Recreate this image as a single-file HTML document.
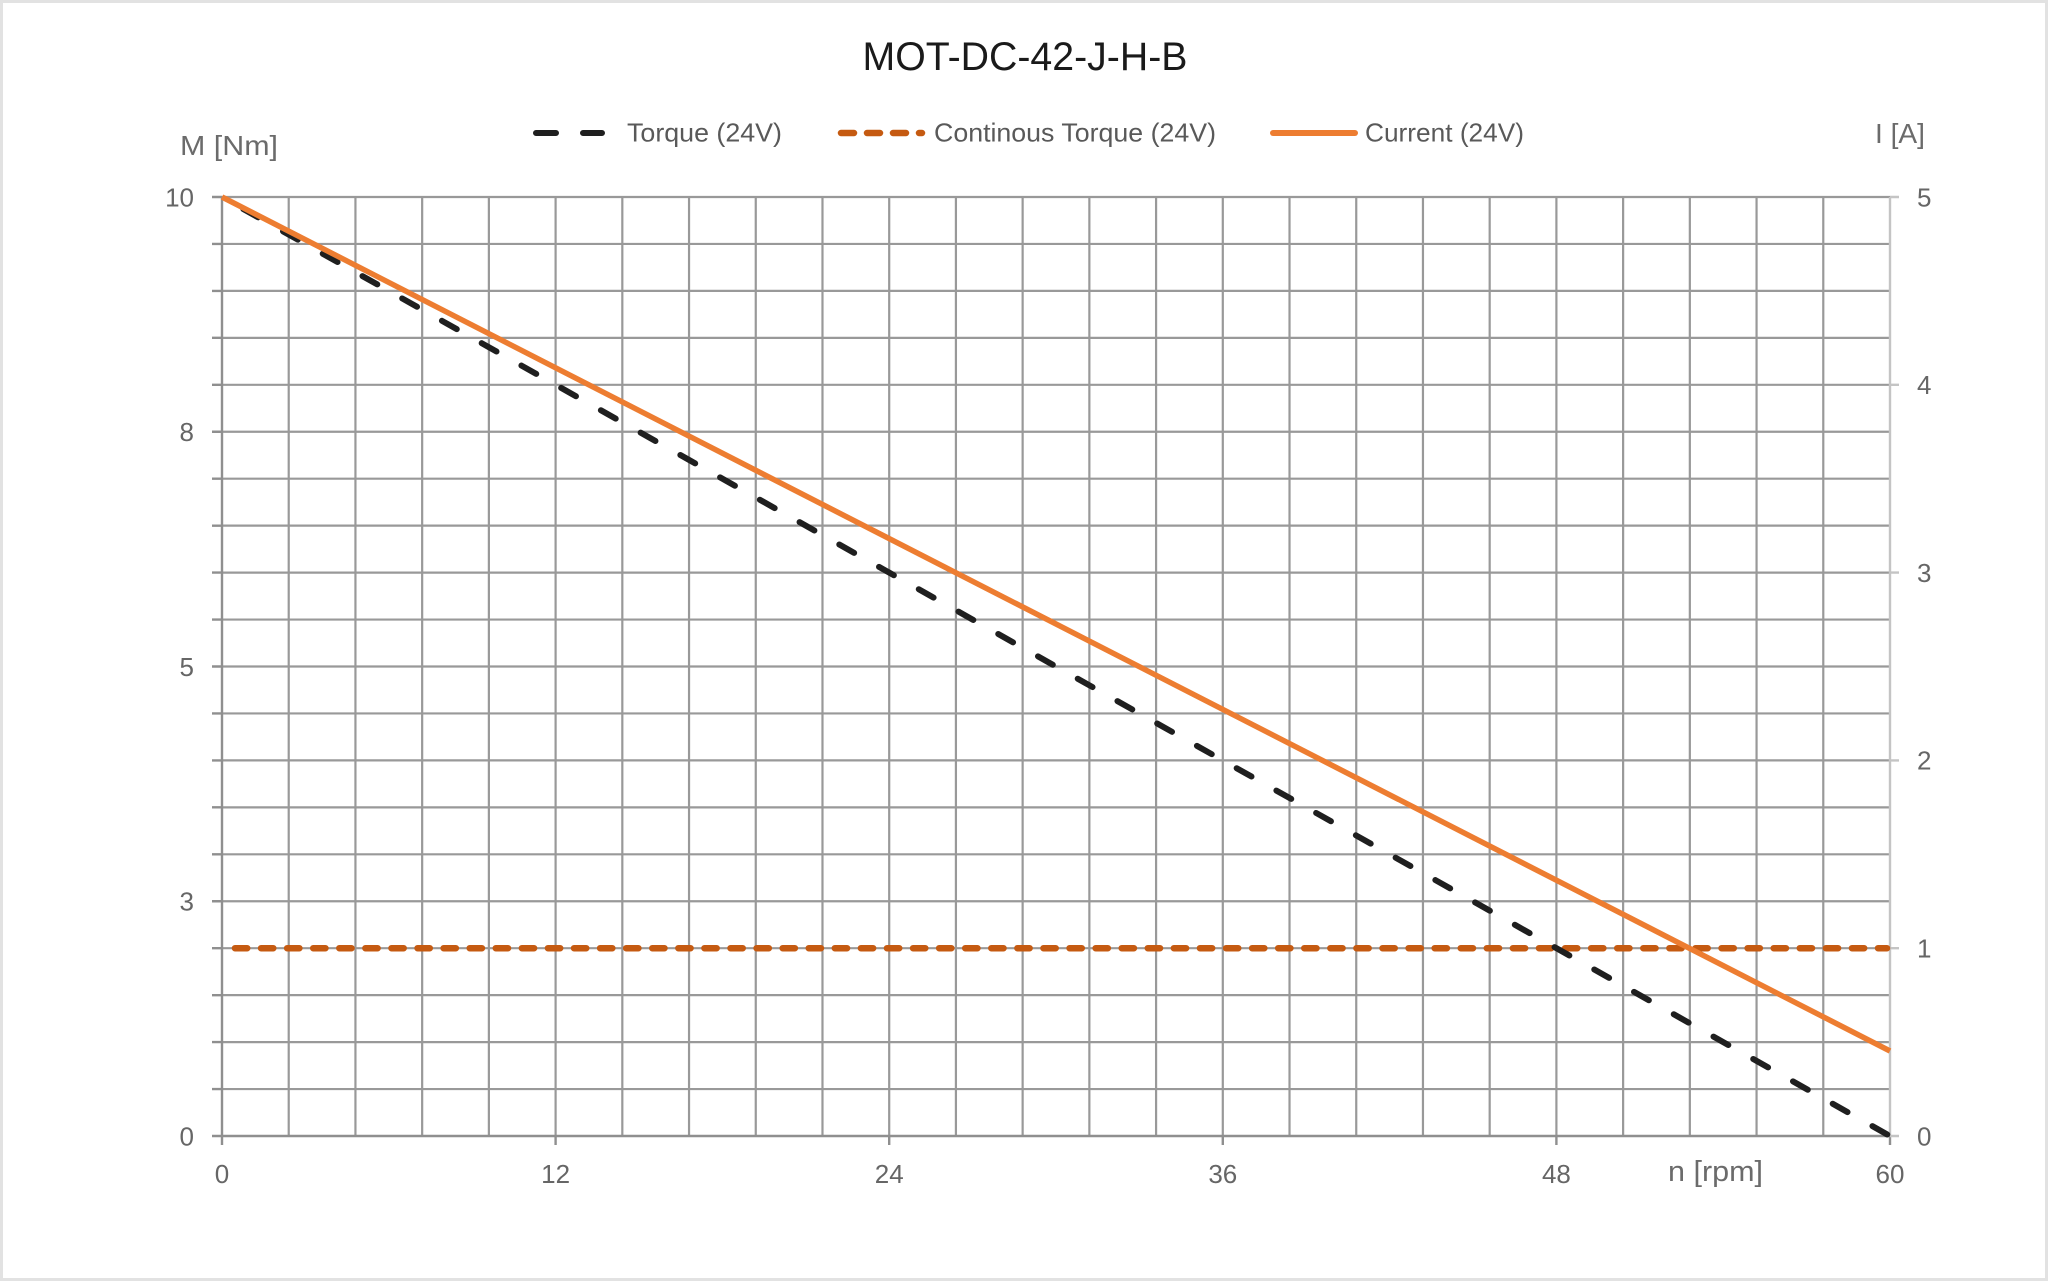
<!DOCTYPE html>
<html>
<head>
<meta charset="utf-8">
<style>
html,body{margin:0;padding:0;background:#ffffff;}
svg{display:block;}
text{font-family:"Liberation Sans",sans-serif;}
</style>
</head>
<body>
<svg width="2048" height="1282" viewBox="0 0 2048 1282" xmlns="http://www.w3.org/2000/svg">
<rect x="0" y="0" width="2048" height="1282" fill="#ffffff"/>
<rect x="1.5" y="1.5" width="2045" height="1278" fill="none" stroke="#e2e2e2" stroke-width="3"/>

<!-- Title -->
<text x="1025" y="70" font-size="40" fill="#1a1a1a" text-anchor="middle" textLength="325" lengthAdjust="spacingAndGlyphs">MOT-DC-42-J-H-B</text>

<!-- Legend -->
<path d="M536 133 L602 133" stroke="#1f1f1f" stroke-width="6" stroke-linecap="round" stroke-dasharray="20 27" fill="none"/>
<text x="627" y="141.5" font-size="26" fill="#595959" textLength="155" lengthAdjust="spacingAndGlyphs">Torque (24V)</text>
<path d="M841 133 L922 133" stroke="#c55a11" stroke-width="6.5" stroke-linecap="round" stroke-dasharray="13 13" fill="none"/>
<text x="934" y="141.5" font-size="26" fill="#595959" textLength="282" lengthAdjust="spacingAndGlyphs">Continous Torque (24V)</text>
<path d="M1273 133 L1355 133" stroke="#ed7d31" stroke-width="6" stroke-linecap="round" fill="none"/>
<text x="1365" y="141.5" font-size="26" fill="#595959" textLength="159" lengthAdjust="spacingAndGlyphs">Current (24V)</text>

<!-- Axis titles -->
<text x="180" y="155" font-size="28" fill="#6b6b6b" textLength="98" lengthAdjust="spacingAndGlyphs">M [Nm]</text>
<text x="1875" y="143" font-size="28" fill="#6b6b6b" textLength="50" lengthAdjust="spacingAndGlyphs">I [A]</text>
<text x="1668" y="1181" font-size="29" fill="#6b6b6b" textLength="95" lengthAdjust="spacingAndGlyphs">n [rpm]</text>

<!-- Grid -->
<g stroke="#999999" stroke-width="2.2" fill="none">
<path d="M222 197H1890M222 243.95H1890M222 290.9H1890M222 337.85H1890M222 384.8H1890M222 431.75H1890M222 478.7H1890M222 525.65H1890M222 572.6H1890M222 619.55H1890M222 666.5H1890M222 713.45H1890M222 760.4H1890M222 807.35H1890M222 854.3H1890M222 901.25H1890M222 948.2H1890M222 995.15H1890M222 1042.1H1890M222 1089.05H1890"/>
<path d="M288.72 197V1136M355.44 197V1136M422.16 197V1136M488.88 197V1136M555.6 197V1136M622.32 197V1136M689.04 197V1136M755.76 197V1136M822.48 197V1136M889.2 197V1136M955.92 197V1136M1022.64 197V1136M1089.36 197V1136M1156.08 197V1136M1222.8 197V1136M1289.52 197V1136M1356.24 197V1136M1422.96 197V1136M1489.68 197V1136M1556.4 197V1136M1623.12 197V1136M1689.84 197V1136M1756.56 197V1136M1823.28 197V1136"/>
</g>
<!-- Left axis + ticks -->
<g stroke="#8f8f8f" stroke-width="2.4" fill="none">
<path d="M222 197V1145"/>
<path d="M212 197H222M212 243.95H222M212 290.9H222M212 337.85H222M212 384.8H222M212 431.75H222M212 478.7H222M212 525.65H222M212 572.6H222M212 619.55H222M212 666.5H222M212 713.45H222M212 760.4H222M212 807.35H222M212 854.3H222M212 901.25H222M212 948.2H222M212 995.15H222M212 1042.1H222M212 1089.05H222M212 1136H1890"/>
<path d="M555.6 1136V1145M889.2 1136V1145M1222.8 1136V1145M1556.4 1136V1145M1890 1136V1145"/>
</g>
<!-- Right axis -->
<g stroke="#c4c4c4" stroke-width="2.4" fill="none">
<path d="M1890 197V1136"/>
<path d="M1890 197H1899M1890 384.8H1899M1890 572.6H1899M1890 760.4H1899M1890 948.2H1899M1890 1136H1899"/>
</g>

<!-- Left tick labels -->
<g font-size="26" fill="#666666" text-anchor="end">
<text x="194" y="206.3">10</text>
<text x="194" y="441">8</text>
<text x="194" y="675.8">5</text>
<text x="194" y="910.5">3</text>
<text x="194" y="1145.3">0</text>
</g>
<!-- Right tick labels -->
<g font-size="26" fill="#666666" text-anchor="start">
<text x="1917" y="206.3">5</text>
<text x="1917" y="394.1">4</text>
<text x="1917" y="581.9">3</text>
<text x="1917" y="769.7">2</text>
<text x="1917" y="957.5">1</text>
<text x="1917" y="1145.3">0</text>
</g>
<!-- Bottom tick labels -->
<g font-size="26" fill="#666666" text-anchor="middle">
<text x="222" y="1183">0</text>
<text x="555.6" y="1183">12</text>
<text x="889.2" y="1183">24</text>
<text x="1222.8" y="1183">36</text>
<text x="1556.4" y="1183">48</text>
<text x="1890" y="1183">60</text>
</g>

<!-- Series -->
<path d="M235 948.2 L1887 948.2" stroke="#c55a11" stroke-width="6.5" stroke-linecap="round" stroke-dasharray="12.2 13.88" fill="none"/>
<path d="M222 197 L1890 1136" stroke="#1f1f1f" stroke-width="6" stroke-linecap="round" stroke-dasharray="17 28.6" stroke-dashoffset="21.2" fill="none"/>
<path d="M222 197 L1890 1051" stroke="#ed7d31" stroke-width="5.5" stroke-linecap="butt" fill="none"/>
</svg>
</body>
</html>
